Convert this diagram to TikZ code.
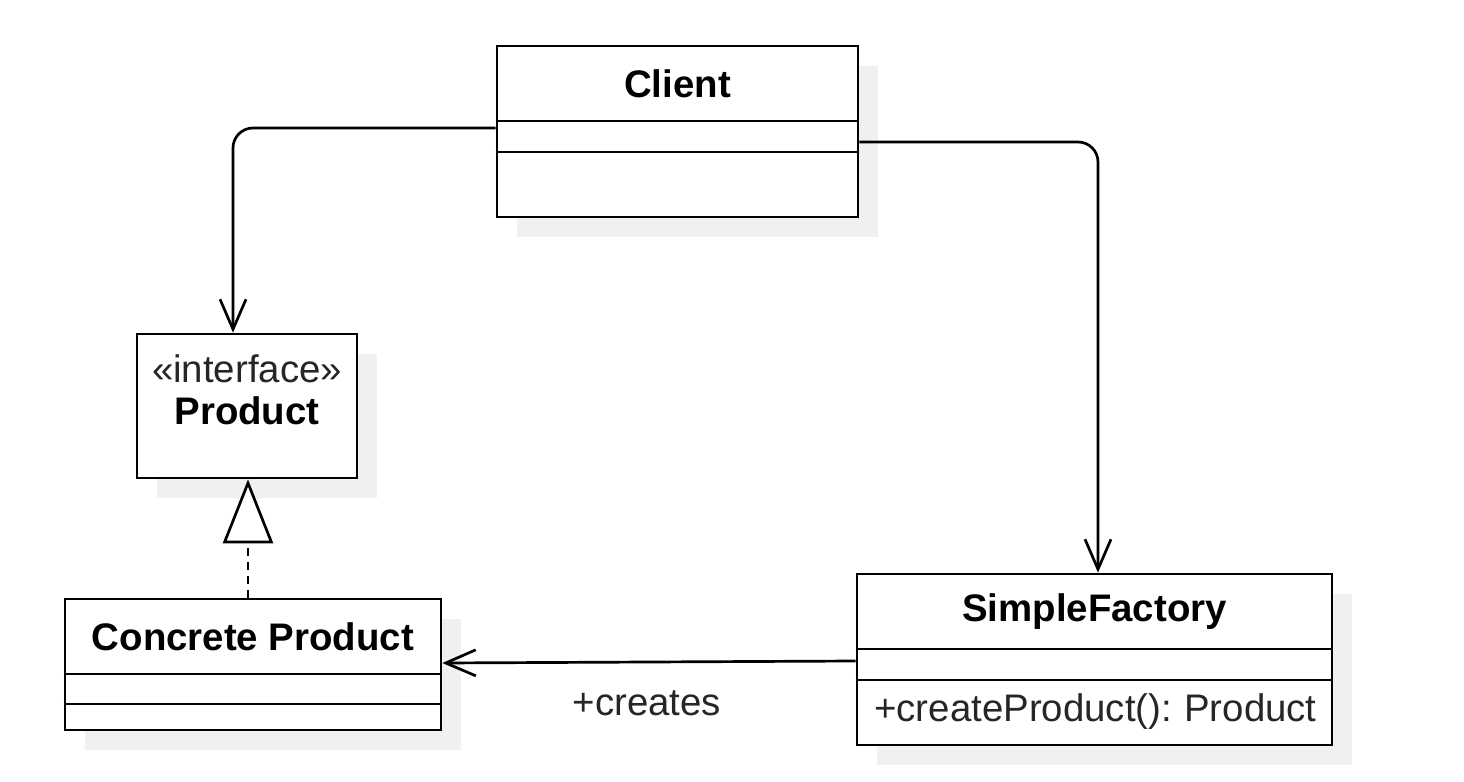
\documentclass[tikz,border=0pt]{standalone}
\usepackage{fontspec}
\setmainfont{Liberation Sans}
\usepackage{tikz}
\usetikzlibrary{shapes, calc, arrows.meta, shadows}

\begin{document}
\begin{tikzpicture}[x=0.5pt, y=-0.5pt, line width=1.35pt,
    umlclass/.style={draw, fill=white, rectangle, inner sep=0pt,
        drop shadow={shadow xshift=10pt, shadow yshift=-10pt, fill=black!6, opacity=1}},
    title/.style={font=\fontsize{19.2}{22}\selectfont\bfseries},
    member/.style={font=\fontsize{19.2}{22}\selectfont, text=black!85},
    assoc/.style={-{Straight Barb[length=15pt, width=13pt]}, rounded corners=10pt},
    realize/.style={dash pattern=on 4pt off 3pt, -{Triangle[open, length=32pt, width=25pt, fill=white]}}]

\useasboundingbox (0,0) rectangle (1464,782);

% classes
\node[umlclass, minimum width=180.5pt, minimum height=85.5pt] (client) at (677.5,131.5) {};
\node[umlclass, minimum width=110pt, minimum height=72pt] (product) at (247,406) {};
\node[umlclass, minimum width=188pt, minimum height=65.5pt] (concrete) at (253,664.5) {};
\node[umlclass, minimum width=237.5pt, minimum height=85.5pt] (factory) at (1094.5,659.5) {};

% compartments
\draw (client.west |- 0,121) -- (client.east |- 0,121);
\draw (client.west |- 0,152) -- (client.east |- 0,152);
\draw (concrete.west |- 0,674) -- (concrete.east |- 0,674);
\draw (concrete.west |- 0,704) -- (concrete.east |- 0,704);
\draw (factory.west |- 0,649) -- (factory.east |- 0,649);
\draw (factory.west |- 0,680) -- (factory.east |- 0,680);

% texts
\node[title] (clientname) at (677.5,84) {Client};
\node[member] (stereo) at (247,369) {«interface»};
\node[title] (productname) at (247,411) {Product};
\node[title] (concretename) at (253,636.5) {Concrete Product};
\node[title] (factoryname) at (1094.5,611.5) {SimpleFactory};
\node[member, anchor=west, inner sep=0pt] (method) at (873,712) {+createProduct():\kern-1pt{} Product};

% relations
\draw[assoc] (client.west |- 0,128) -| ($(product.north)+(-14,0)$);
\draw[assoc] (client.east |- 0,142) -| ($(factory.north)+(3.5,0)$);
\draw[assoc] (factory.west |- 0,661) -- (concrete.east |- 0,663);
\node[member] (creates) at (647,703) {+creates};
\draw[realize] (concrete.north) ++(-5,0) coordinate (cp) -- (cp |- product.south);

\end{tikzpicture}
\end{document}
